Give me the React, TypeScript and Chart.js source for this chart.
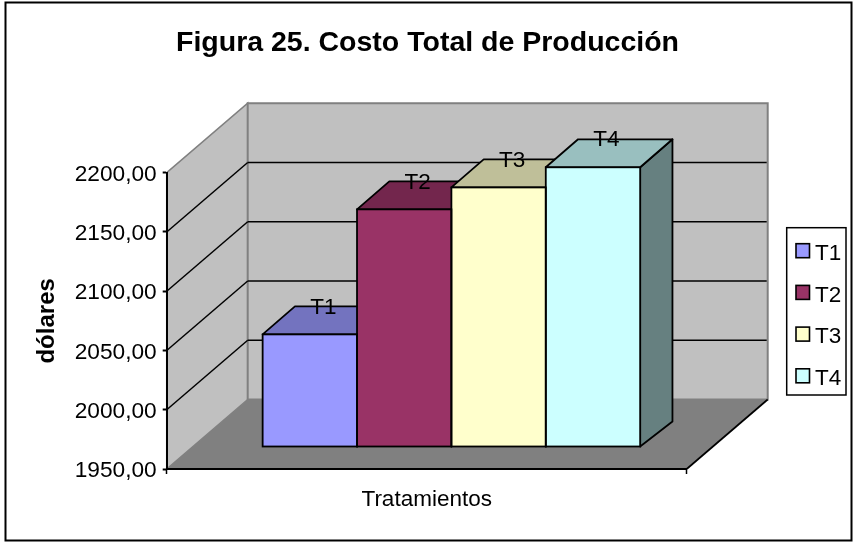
import React, { useEffect, useRef } from "react";
import { Chart, registerables } from "chart.js";

Chart.register(...registerables);

const categories = ["Tratamientos"];
const seriesNames = ["T1", "T2", "T3", "T4"];
const t1Values = [2045];
const t2Values = [2150.5];
const t3Values = [2169];
const t4Values = [2186];
const seriesValues = [t1Values, t2Values, t3Values, t4Values];
const frontColors = ["#9999FF", "#993366", "#FFFFCC", "#CCFFFF"];
const topColors = ["#7373BF", "#73264D", "#BFBF99", "#99BFBF"];
const sideColors = ["#4D4D80", "#4D1A33", "#808066", "#668080"];

const FONT = "'Liberation Sans', Arial, sans-serif";
const WALL_DX = 81;
const WALL_DY = 69.5;
const BAR_DX = 24.7;
const BAR_DY = 22;
const DEPTH_X = 32.3;
const DEPTH_Y_TOP = 28;
const DEPTH_Y_BASE = 25;

const poly = (ctx: CanvasRenderingContext2D, pts: number[][], fill?: string, stroke?: string, lw = 2) => {
  ctx.beginPath();
  pts.forEach((p, i) => (i ? ctx.lineTo(p[0], p[1]) : ctx.moveTo(p[0], p[1])));
  ctx.closePath();
  if (fill) {
    ctx.fillStyle = fill;
    ctx.fill();
  }
  if (stroke) {
    ctx.strokeStyle = stroke;
    ctx.lineWidth = lw;
    ctx.stroke();
  }
};

const seg = (ctx: CanvasRenderingContext2D, x1: number, y1: number, x2: number, y2: number, color: string, lw: number) => {
  ctx.beginPath();
  ctx.moveTo(x1, y1);
  ctx.lineTo(x2, y2);
  ctx.strokeStyle = color;
  ctx.lineWidth = lw;
  ctx.stroke();
};

const barBox = (chart: any, i: number) => {
  const el = chart.getDatasetMeta(i).data[0];
  const { x, y, base, width } = el.getProps(["x", "y", "base", "width"], true);
  return { l: x - width / 2 + BAR_DX, r: x + width / 2 + BAR_DX, t: y - BAR_DY, b: base - BAR_DY };
};

const scene3d = {
  id: "scene3d",
  afterLayout(chart: any) {
    if (chart.titleBlock) {
      chart.titleBlock.left = 0;
      chart.titleBlock.right = 855;
    }
    const lg = chart.legend;
    lg.left = 776.7;
    lg.right = 850;
    lg.top = 213;
    lg.bottom = 420;
  },
  beforeDraw(chart: any) {
    const { ctx, chartArea: a, scales } = chart;
    ctx.save();
    ctx.fillStyle = "#fff";
    ctx.fillRect(0, 0, chart.width, chart.height);
    ctx.strokeStyle = "#000";
    ctx.lineWidth = 2;
    ctx.strokeRect(5.5, 2.5, 846, 538);

    ctx.lineJoin = "miter";
    // floor, side wall and back wall
    poly(ctx, [[a.left, a.bottom], [a.right, a.bottom], [a.right + WALL_DX, a.bottom - WALL_DY], [a.left + WALL_DX, a.bottom - WALL_DY]], "#808080");
    poly(ctx, [[a.left, a.bottom], [a.left, a.top], [a.left + WALL_DX, a.top - WALL_DY], [a.left + WALL_DX, a.bottom - WALL_DY]], "#C0C0C0", "#808080", 1.5);
    poly(ctx, [[a.left + WALL_DX, a.top - WALL_DY], [a.right + WALL_DX, a.top - WALL_DY], [a.right + WALL_DX, a.bottom - WALL_DY], [a.left + WALL_DX, a.bottom - WALL_DY]], "#C0C0C0", "#808080", 2);
    seg(ctx, a.right, a.bottom, a.right + WALL_DX, a.bottom - WALL_DY, "#000", 1.7);

    // gridlines on side and back walls, from the value axis
    const yScale = scales.y;
    yScale.ticks.forEach((t: any) => {
      if (t.value <= yScale.min || t.value >= yScale.max) return;
      const y = yScale.getPixelForValue(t.value);
      seg(ctx, a.left, y, a.left + WALL_DX, y - WALL_DY, "#000", 1.5);
      seg(ctx, a.left + WALL_DX, y - WALL_DY, a.right + WALL_DX - 1, y - WALL_DY, "#000", 1.5);
    });

    // legend frame and swatches
    ctx.fillStyle = "#fff";
    ctx.fillRect(786.7, 227.7, 59.3, 167.3);
    ctx.strokeStyle = "#000";
    ctx.lineWidth = 1.5;
    ctx.strokeRect(786.7, 227.7, 59.3, 167.3);
    frontColors.forEach((c, i) => {
      const cy = 250.7 + 41.7 * i;
      ctx.fillStyle = c;
      ctx.fillRect(796, cy - 7, 13.5, 14);
      ctx.lineWidth = 1.6;
      ctx.strokeRect(796, cy - 7, 13.5, 14);
    });
    ctx.restore();
  },
  beforeDatasetsDraw(chart: any) {
    const { ctx } = chart;
    ctx.save();
    ctx.lineJoin = "round";
    seriesNames.forEach((_, i) => {
      const b = barBox(chart, i);
      poly(ctx, [[b.r, b.t], [b.r + DEPTH_X, b.t - DEPTH_Y_TOP], [b.r + DEPTH_X, b.b - DEPTH_Y_BASE], [b.r, b.b]], sideColors[i], "#000", 1.8);
      poly(ctx, [[b.l, b.t], [b.l + DEPTH_X, b.t - DEPTH_Y_TOP], [b.r + DEPTH_X, b.t - DEPTH_Y_TOP], [b.r, b.t]], topColors[i], "#000", 1.8);
    });
    ctx.restore();
    ctx.save();
    ctx.translate(BAR_DX, -BAR_DY);
  },
  afterDatasetsDraw(chart: any) {
    const { ctx } = chart;
    ctx.restore();
    ctx.save();
    seriesNames.forEach((name, i) => {
      const b = barBox(chart, i);
      ctx.strokeStyle = "#000";
      ctx.lineWidth = 1.8;
      ctx.strokeRect(b.l, b.t, b.r - b.l, b.b - b.t);
    });
    ctx.fillStyle = "#000";
    ctx.font = `22.5px ${FONT}`;
    ctx.textAlign = "center";
    ctx.textBaseline = "middle";
    seriesNames.forEach((name, i) => {
      const b = barBox(chart, i);
      ctx.fillText(name, (b.l + b.r) / 2 + 13.5, b.t - DEPTH_Y_TOP + 1);
    });
    ctx.restore();
  },
};

export default function App() {
  const ref = useRef<HTMLCanvasElement>(null);
  useEffect(() => {
    document.body.style.margin = "0";
    document.body.style.background = "#fff";
    Chart.defaults.font.family = FONT;
    const chart = new Chart(ref.current!, {
      type: "bar",
      data: {
        labels: categories,
        datasets: seriesNames.map((name, i) => ({
          label: name,
          data: seriesValues[i],
          base: 1950,
          backgroundColor: frontColors[i],
          borderWidth: 0,
          clip: false as any,
          categoryPercentage: 0.726,
          barPercentage: 1,
        })),
      },
      options: {
        animation: false,
        responsive: false,
        layout: { padding: { left: 10, right: 106.3, top: 26, bottom: 20 } },
        scales: {
          x: {
            afterFit: (s: any) => {
              s.height = 53;
            },
            grid: { drawOnChartArea: false, drawTicks: true, tickLength: 5, tickColor: "#000", tickWidth: 1.5 },
            border: { color: "#000", width: 2 },
            ticks: { display: false },
            title: { display: true, text: "Tratamientos", color: "#000", font: { size: 22.5, weight: "normal" }, padding: { top: 0, bottom: 9 } },
          },
          y: {
            min: 1950,
            max: 2200,
            afterFit: (s: any) => {
              s.width = 156.7;
            },
            grid: { drawOnChartArea: false, drawTicks: true, tickLength: 4, tickColor: "#000", tickWidth: 2 },
            border: { color: "#000", width: 2 },
            ticks: {
              stepSize: 50,
              color: "#000",
              padding: 6,
              labelOffset: 2,
              font: { size: 22.7 },
              callback: (v: any) => Number(v).toFixed(2).replace(".", ","),
            },
            title: { display: true, text: "dólares", color: "#000", font: { size: 24, weight: "bold" }, padding: { top: 23, bottom: 0 } },
          },
        },
        plugins: {
          tooltip: { enabled: false },
          title: {
            display: true,
            text: "Figura 25. Costo Total de Producción",
            color: "#000",
            font: { size: 28.5, weight: "bold" },
            padding: { top: 0, bottom: 112.5 },
          },
          legend: {
            position: "right",
            maxWidth: 60,
            labels: {
              boxWidth: 8,
              boxHeight: 13,
              padding: 19,
              color: "#000",
              font: { size: 22.5 },
              generateLabels: (c: any) =>
                Chart.defaults.plugins.legend.labels.generateLabels(c).map((it: any) => ({
                  ...it,
                  fillStyle: "rgba(0,0,0,0)",
                  strokeStyle: "rgba(0,0,0,0)",
                  lineWidth: 0,
                })),
            },
          },
        },
      } as any,
      plugins: [scene3d as any],
    });
    return () => chart.destroy();
  }, []);
  return (
    <div style={{ position: "absolute", left: 0, top: 0, width: 853, height: 542 }}>
      <canvas ref={ref} width={853} height={542} style={{ display: "block", width: 853, height: 542 }} />
    </div>
  );
}
